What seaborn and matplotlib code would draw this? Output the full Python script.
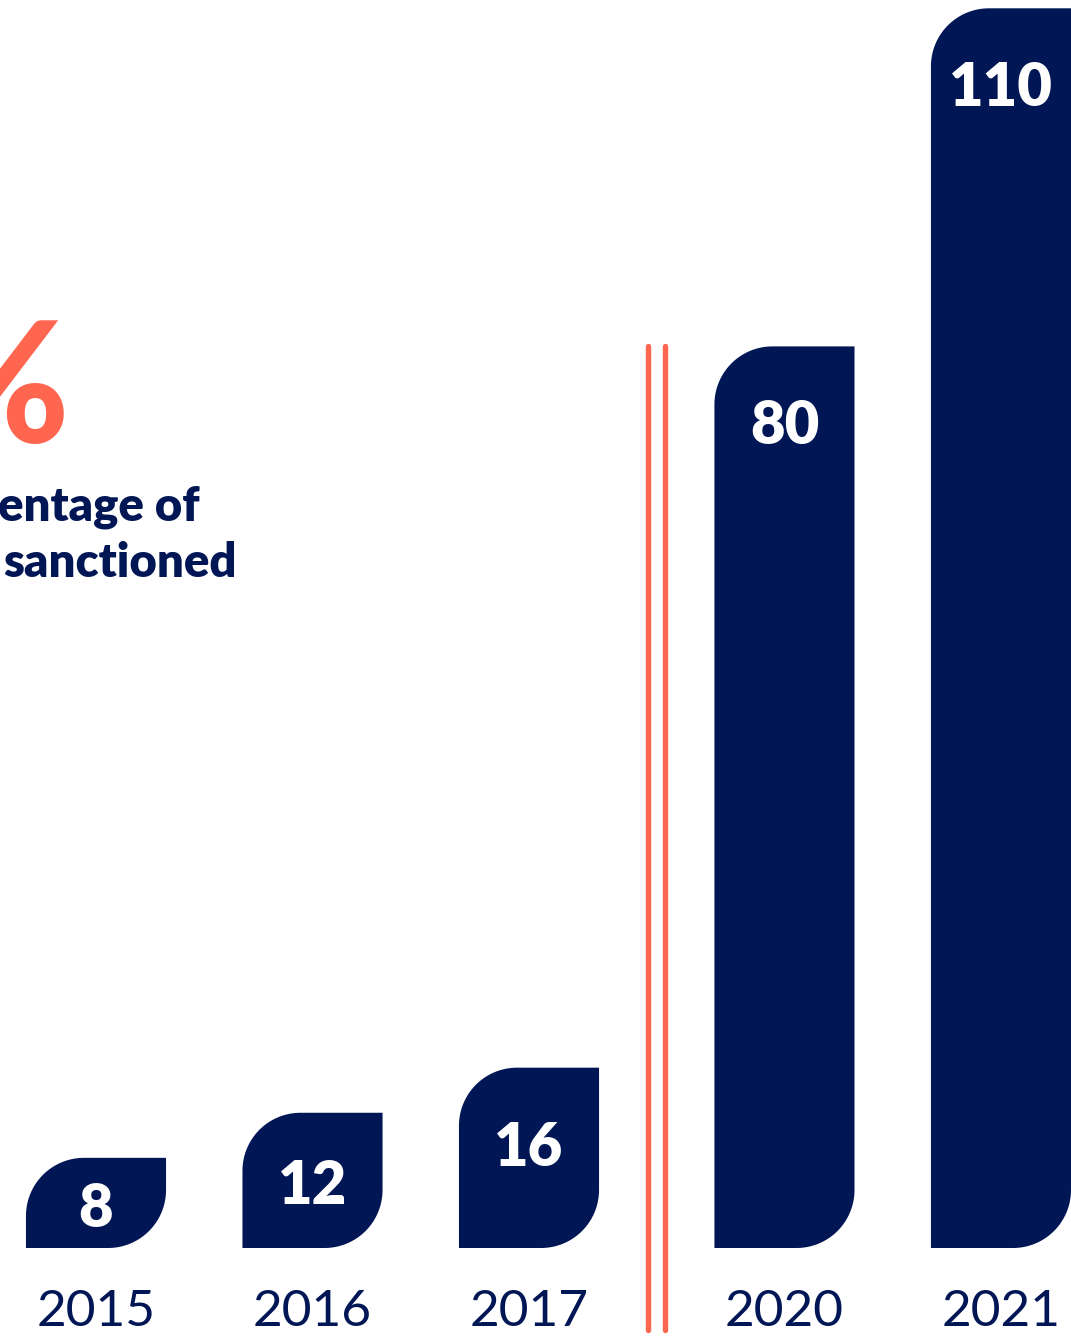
import numpy as np
import matplotlib
matplotlib.use("Agg")
import matplotlib.pyplot as plt
from matplotlib.path import Path
from matplotlib.patches import PathPatch
import seaborn as sns

# --- data -------------------------------------------------------------
years = ["2015", "2016", "2017", "2020", "2021"]
values = [8, 12, 16, 80, 110]
slots = [0, 1, 2, 3.18, 4.18]          # gap after 2017 marks the break in years
break_top = 80

NAVY = "#001655"
CORAL = "#FF6650"

# --- figure / scales ---------------------------------------------------
W, H = 1071, 1336
PX_PER_SLOT = 216.5
PX_PER_UNIT = 11.27
BASE_PX = 88                           # baseline height above figure bottom
BAR_W = 0.647

sns.set_theme(style="white")
plt.rcParams["font.family"] = ["Lato", "DejaVu Sans"]

fig = plt.figure(figsize=(W / 100, H / 100), dpi=100)
ax = fig.add_axes([0, 0, 1, 1])

sns.barplot(x=slots, y=values, native_scale=True, width=BAR_W,
            color=NAVY, saturation=1, ax=ax)
ax.set_xlim(-96 / PX_PER_SLOT, (W - 96) / PX_PER_SLOT)
ax.set_ylim(-BASE_PX / PX_PER_UNIT, (H - BASE_PX) / PX_PER_UNIT)
ax.set_axis_off()


def leaf_path(x0, w, h, r_px=58, n=32):
    """Bar outline with rounded top-left and bottom-right corners."""
    rx = r_px / PX_PER_SLOT
    ry = r_px / PX_PER_UNIT
    x1 = x0 + w
    t = np.linspace(0, np.pi / 2, n)
    verts = [(x0, 0), (x0, h - ry)]
    # top-left arc: from left side up to top edge
    cx, cy = x0 + rx, h - ry
    verts += [(cx - rx * np.cos(a), cy + ry * np.sin(a)) for a in t]
    verts += [(x1, h), (x1, ry)]
    # bottom-right arc: from right side down to baseline
    cx, cy = x1 - rx, ry
    verts += [(cx + rx * np.cos(a), cy - ry * np.sin(a)) for a in t]
    verts += [(x0, 0), (x0, 0)]
    codes = [Path.MOVETO] + [Path.LINETO] * (len(verts) - 2) + [Path.CLOSEPOLY]
    return Path(verts, codes)


bars = list(ax.patches)
for bar, val in zip(bars, values):
    x0, w, h = bar.get_x(), bar.get_width(), bar.get_height()
    bar.remove()
    ax.add_patch(PathPatch(leaf_path(x0, w, h), facecolor=NAVY,
                           edgecolor="none", zorder=3))
    h_px = h * PX_PER_UNIT
    off_px = min(h_px / 2 + 24, 98)
    ax.text(x0 + w / 2, h - off_px / PX_PER_UNIT, f"{val}", ha="center",
            va="baseline", color="white", fontsize=43, fontweight="heavy",
            zorder=4)

# year labels under each bar
for pos, yr in zip(slots, years):
    ax.text(pos, -(BASE_PX - 10) / PX_PER_UNIT, yr, ha="center",
            va="baseline", color=NAVY, fontsize=37)

# double break line between 2017 and 2020
left_end = slots[2] + BAR_W / 2
right_start = slots[3] - BAR_W / 2
mid = (left_end + right_start) / 2
gap = 8.5 / PX_PER_SLOT
for dx in (-gap, gap):
    ax.plot([mid + dx, mid + dx], [-82 / PX_PER_UNIT, break_top],
            color=CORAL, lw=3.9, solid_capstyle="round", zorder=2)

# headline block on the left, running off the canvas edge
fig.text(70 / W, 1 - 442 / H, "%", ha="right", va="baseline",
         color=CORAL, fontsize=120, fontweight="black")
fig.text(200 / W, 1 - 520 / H, "entage of", ha="right", va="baseline",
         color=NAVY, fontsize=34, fontweight="heavy")
fig.text(237 / W, 1 - 577 / H, "sanctioned", ha="right", va="baseline",
         color=NAVY, fontsize=34, fontweight="heavy")

fig.savefig("out.png", dpi=100, facecolor="white")
